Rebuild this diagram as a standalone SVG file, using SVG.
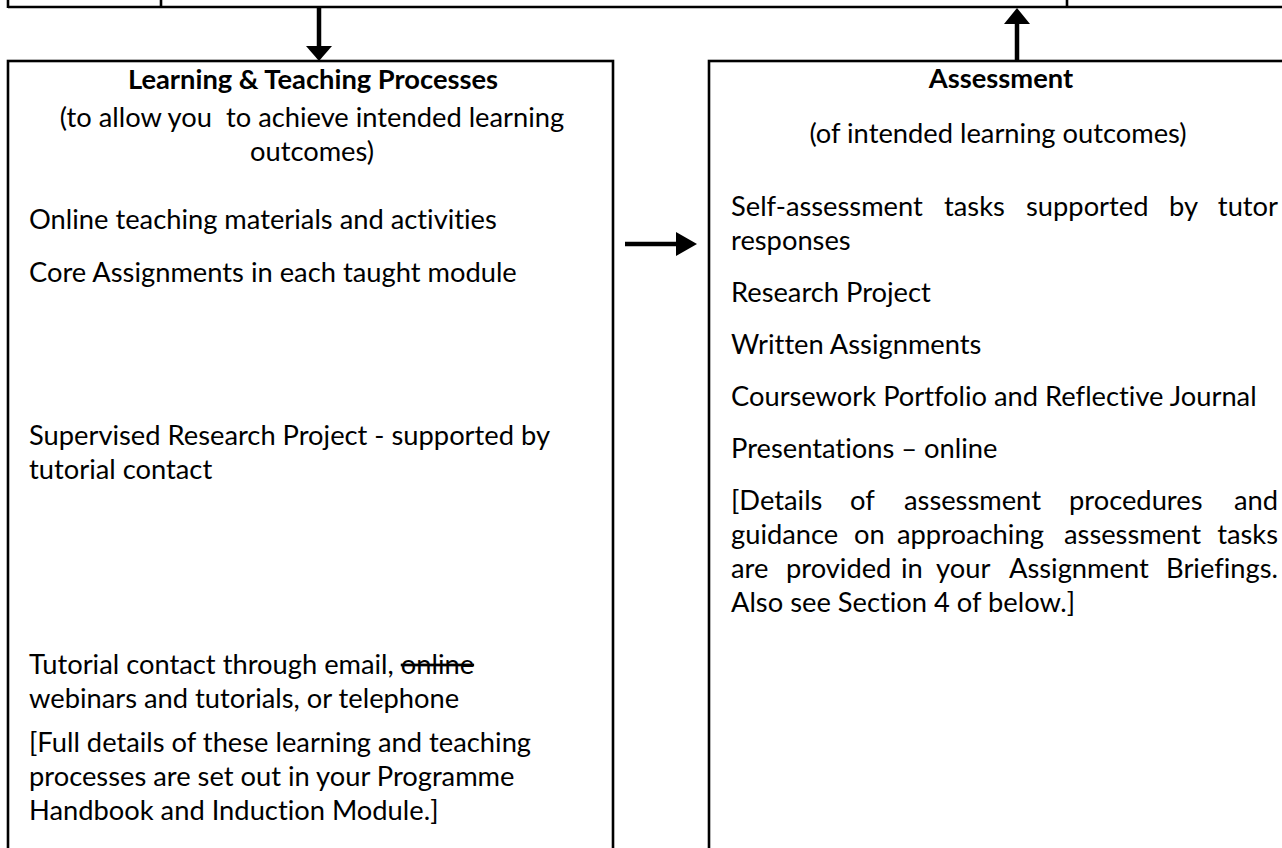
<svg xmlns="http://www.w3.org/2000/svg" width="1282" height="848" viewBox="0 0 1282 848">
<style>
.box{fill:#fff;stroke:#000;stroke-width:2.6}
.ln{stroke:#000;stroke-width:2.6;fill:none}
.sh{stroke:#000;stroke-width:4.5;fill:none}
.hd{fill:#000;stroke:none}
text{font-family:Lato,"Open Sans","Liberation Sans",sans-serif;font-size:27.3px;fill:#000;font-variant-ligatures:none}
.b{font-weight:bold;font-size:27.3px}
.c{text-anchor:middle}
.e{text-anchor:end}
</style>
<rect width="1282" height="848" fill="#fff"/>
<g id="top-row">
<line class="ln" x1="8" y1="7" x2="1282" y2="7"/>
<line class="ln" x1="8" y1="0" x2="8" y2="8"/>
<line class="ln" x1="161" y1="0" x2="161" y2="8"/>
<line class="ln" x1="1067" y1="0" x2="1067" y2="8"/>
</g>
<g id="learning-teaching">
<rect class="box" x="8" y="61" width="605" height="820"/>
<text class="b c" x="313" y="89">Learning &amp; Teaching Processes</text>
<text class="c" x="312" y="127" xml:space="preserve">(to allow you  to achieve intended learning</text>
<text class="c" x="312" y="161">outcomes)</text>
<text x="29" y="229">Online teaching materials and activities</text>
<text x="29" y="282">Core Assignments in each taught module</text>
<text x="29" y="445">Supervised Research Project - supported by</text>
<text x="29" y="479">tutorial contact</text>
<text x="29" y="674">Tutorial contact through email, <tspan text-decoration="line-through">online</tspan></text>
<text x="29" y="708">webinars and tutorials, or telephone</text>
<text x="29" y="752">[Full details of these learning and teaching</text>
<text x="29" y="786">processes are set out in your Programme</text>
<text x="29" y="820">Handbook and Induction Module.]</text>
</g>
<g id="assessment">
<rect class="box" x="709" y="61" width="600" height="820"/>
<text class="b c" x="1001" y="88">Assessment</text>
<text class="c" x="998" y="143">(of intended learning outcomes)</text>
<text x="731" y="216">Self-assessment</text>
<text x="944" y="216">tasks</text>
<text x="1026" y="216">supported</text>
<text x="1169" y="216">by</text>
<text class="e" x="1278" y="216">tutor</text>
<text x="731" y="250">responses</text>
<text x="731" y="302">Research Project</text>
<text x="731" y="354">Written Assignments</text>
<text x="731" y="406">Coursework Portfolio and Reflective Journal</text>
<text x="731" y="458">Presentations – online</text>
<text x="731" y="510">[Details</text>
<text x="850" y="510">of</text>
<text x="904" y="510">assessment</text>
<text x="1069" y="510">procedures</text>
<text class="e" x="1278" y="510">and</text>
<text x="731" y="544">guidance</text>
<text x="854" y="544">on</text>
<text x="897" y="544">approaching</text>
<text x="1064" y="544">assessment</text>
<text class="e" x="1278" y="544">tasks</text>
<text x="731" y="578">are</text>
<text x="786" y="578">provided</text>
<text x="901" y="578">in</text>
<text x="936" y="578">your</text>
<text x="1009" y="578">Assignment</text>
<text class="e" x="1278" y="578">Briefings.</text>
<text x="731" y="612">Also see Section 4 of below.]</text>
</g>
<g id="connectors">
<line class="sh" x1="319" y1="7" x2="319" y2="47"/>
<polygon class="hd" points="306,46 332,46 319,61"/>
<line class="sh" x1="1017" y1="61" x2="1017" y2="22"/>
<polygon class="hd" points="1004,24 1030,24 1017,8"/>
<line class="sh" x1="625" y1="244" x2="678" y2="244"/>
<polygon class="hd" points="676,232 697,244 676,256"/>
</g>
</svg>
